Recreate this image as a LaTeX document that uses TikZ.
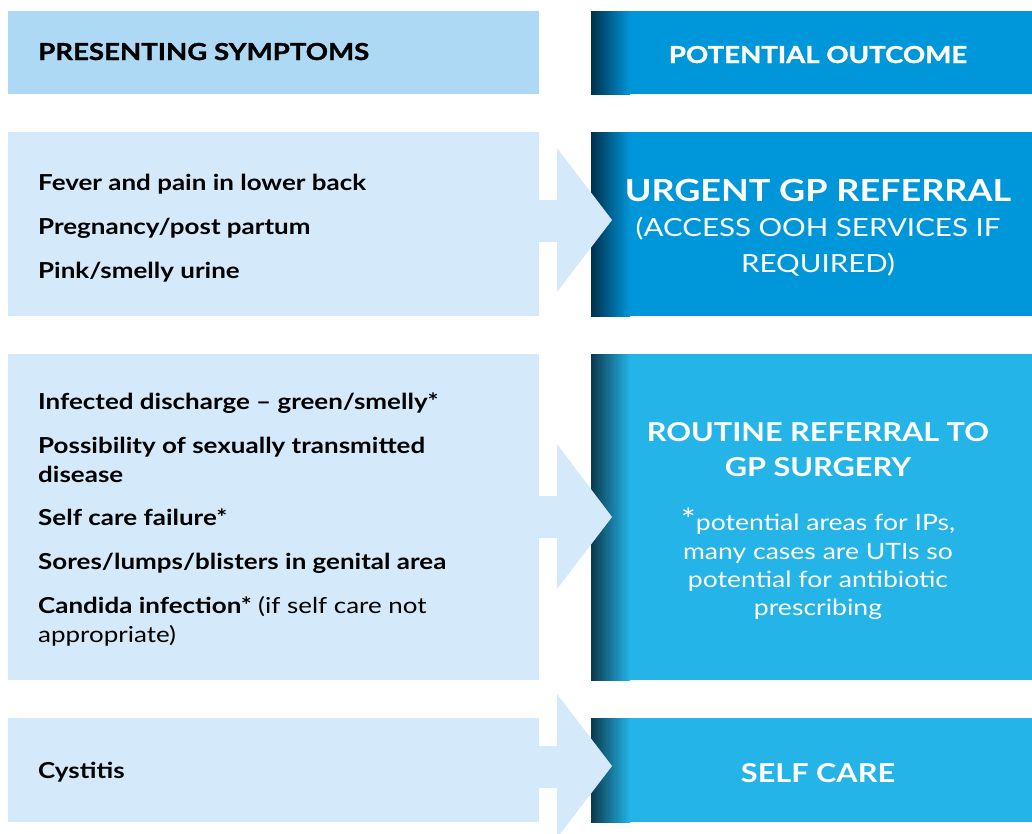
\documentclass[tikz,border=0pt]{standalone}
\usepackage{fontspec}
\setmainfont{Lato}[FakeStretch=1.18]
\newfontfamily\heavyfont{Lato}[FakeStretch=1.18,BoldFeatures={FakeBold=1.2}]
\definecolor{hdrleft}{HTML}{AED9F4}
\definecolor{boxleft}{HTML}{D4E9F9}
\definecolor{blueA}{HTML}{0096DA}
\definecolor{darkA}{HTML}{00304C}
\definecolor{blueB}{HTML}{24B4E8}
\definecolor{darkB}{HTML}{0B3A4E}
\begin{document}
\begin{tikzpicture}[x=1pt,y=-1pt,
  lefttxt/.style={anchor=base west,inner sep=0pt,font=\fontsize{22}{26}\selectfont\bfseries,text=black},
  righttxt/.style={anchor=base,inner sep=0pt,text=white},
  bigtitle/.style={righttxt,font=\fontsize{30.5}{36}\selectfont\bfseries},
  midtitle/.style={righttxt,font=\fontsize{26}{30}\selectfont\bfseries},
  smalltxt/.style={righttxt,font=\fontsize{22.5}{26}\selectfont},
  accesstxt/.style={righttxt,font=\fontsize{25}{30}\selectfont},
  hdrtxt/.style={inner sep=0pt,font=\heavyfont\fontsize{23.4}{27}\selectfont\bfseries}
]
\useasboundingbox (0,0) rectangle (1032,833);
\clip (0,0) rectangle (1032,833);
% ---------- left boxes ----------
\fill[hdrleft] (8,11) rectangle (539,94);
\fill[boxleft] (8,132) rectangle (539,316);
\fill[boxleft] (8,354) rectangle (539,680);
\fill[boxleft] (8,718) rectangle (539,822);
% ---------- right boxes ----------
\fill[blueA] (591,11) rectangle (1032,94);
\shade[left color=darkA,right color=blueA] (591,11) rectangle (630,94);
\fill[blueA] (591,132) rectangle (1032,316);
\shade[left color=darkA,right color=blueA] (591,132) rectangle (630,316);
\fill[blueB] (591,354) rectangle (1032,680);
\shade[left color=darkB,right color=blueB] (591,354) rectangle (630,680);
\fill[blueB] (591,718) rectangle (1032,822);
\shade[left color=darkB,right color=blueB] (591,718) rectangle (630,822);
% ---------- arrows ----------
\fill[boxleft] (530,200) -- (557,200) -- (557,148) -- (612,220) -- (557,292) -- (557,242) -- (530,242) -- cycle;
\fill[boxleft] (530,496) -- (557,496) -- (557,444) -- (612,517) -- (557,589) -- (557,538) -- (530,538) -- cycle;
\fill[boxleft] (530,746) -- (557,746) -- (557,694) -- (612,766) -- (557,838) -- (557,788) -- (530,788) -- cycle;
% ---------- headers ----------
\node[hdrtxt,anchor=base west,text=black] (hl) at (38,60) {PRESENTING SYMPTOMS};
\node[hdrtxt,anchor=base,text=white] (hr) at (818,63) {POTENTIAL OUTCOME};
% ---------- row 1 ----------
\node[lefttxt] (a1) at (38,190) {Fever and pain in lower back};
\node[lefttxt] (a2) at (38,234) {Pregnancy/post partum};
\node[lefttxt] (a3) at (38,278) {Pink/smelly urine};
\node[bigtitle] (r1) at (818,201) {URGENT GP REFERRAL};
\node[accesstxt] (r1b) at (818,236) {(ACCESS OOH SERVICES IF};
\node[accesstxt] (r1c) at (818,272) {REQUIRED)};
% ---------- row 2 ----------
\node[lefttxt] (b1) at (38,409) {Infected discharge – green/smelly*};
\node[lefttxt] (b2) at (38,453) {Possibility of sexually transmitted};
\node[lefttxt] (b3) at (38,482) {disease};
\node[lefttxt] (b4) at (38,525) {Self care failure*};
\node[lefttxt] (b5) at (38,569) {Sores/lumps/blisters in genital area};
\node[lefttxt] (b6) at (38,613) {Candida infection* \mdseries(if self care not};
\node[lefttxt,font=\fontsize{22}{26}\selectfont] (b7) at (38,642) {appropriate)};
\node[midtitle] (r2a) at (818,441) {ROUTINE REFERRAL TO};
\node[midtitle] (r2b) at (818,476) {GP SURGERY};
\node[smalltxt] (r2c) at (818,530) {{\fontsize{30}{30}\selectfont *}potential areas for IPs,};
\node[smalltxt] (r2d) at (818,559) {many cases are UTIs so};
\node[smalltxt] (r2e) at (818,587) {potential for antibiotic};
\node[smalltxt] (r2f) at (818,615) {prescribing};
% ---------- row 3 ----------
\node[lefttxt] (c1) at (38,778) {Cystitis};
\node[midtitle] (r3) at (818,782) {SELF CARE};
\end{tikzpicture}
\end{document}
